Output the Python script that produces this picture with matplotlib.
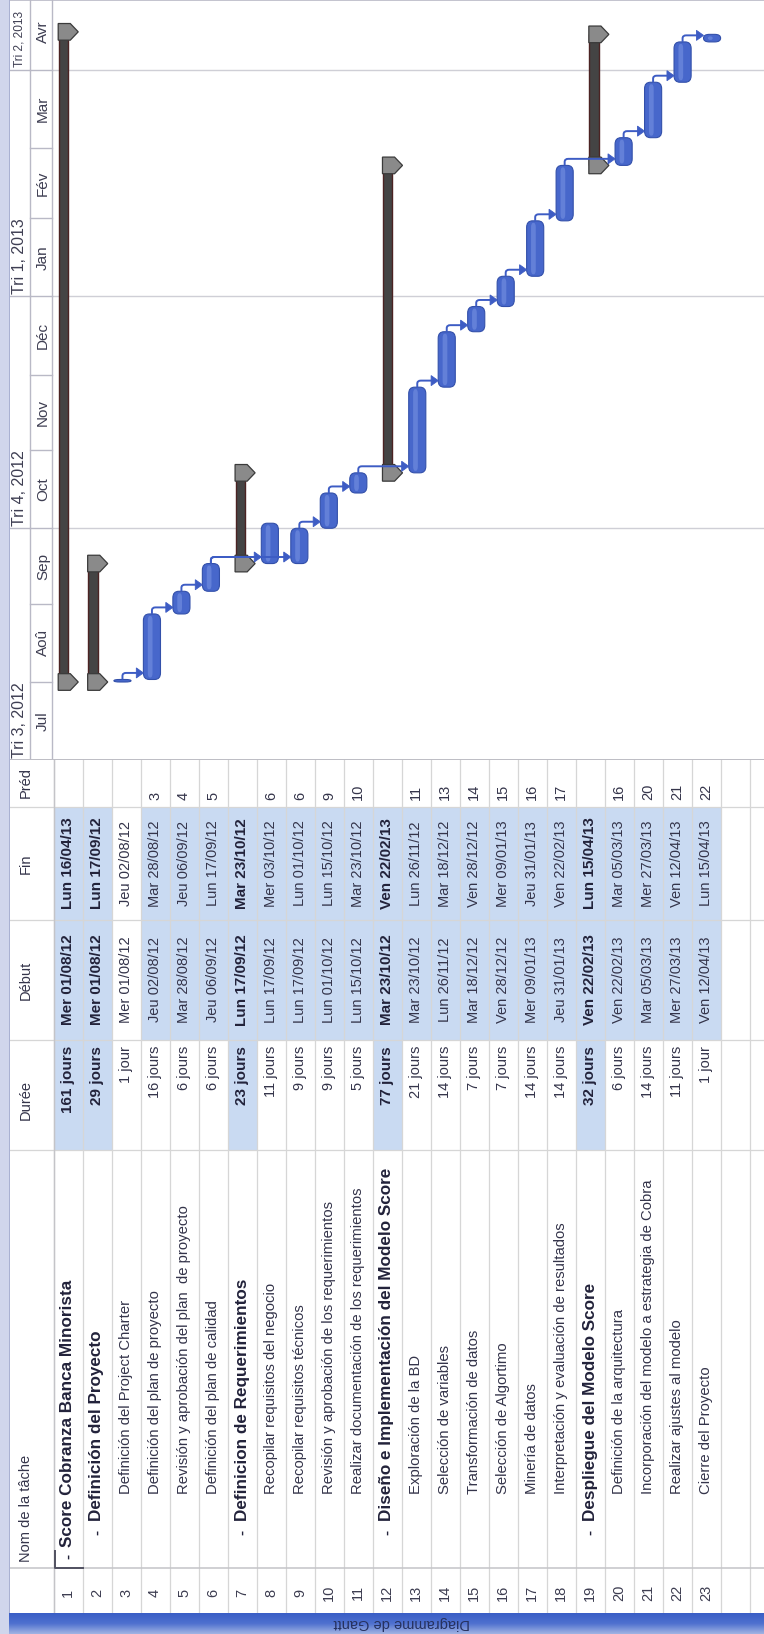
import matplotlib
matplotlib.use("Agg")
import matplotlib.pyplot as plt
import matplotlib.dates as mdates
import matplotlib.transforms as mtransforms
from matplotlib.patches import Rectangle, Polygon, FancyBboxPatch, PathPatch
from matplotlib.path import Path
from datetime import datetime, date
import numpy as np

plt.rcParams['font.family'] = ['Liberation Sans', 'DejaVu Sans']

# ---------------- project data ----------------
task_ids = list(range(1, 24))
task_names = [
    "Score Cobranza Banca Minorista",
    "Definición del Proyecto",
    "Definición del Project Charter",
    "Definición del plan de proyecto",
    "Revisión y aprobación del plan  de proyecto",
    "Definición del plan de calidad",
    "Definicion de Requerimientos",
    "Recopilar requisitos del negocio",
    "Recopilar requisitos técnicos",
    "Revisión y aprobación de los requerimientos",
    "Realizar documentación de los requerimientos",
    "Diseño e Implementación del Modelo Score",
    "Exploración de la BD",
    "Selección de variables",
    "Transformación de datos",
    "Selección de Algortimo",
    "Minería de datos",
    "Interpretación y evaluación de resultados",
    "Despliegue del Modelo Score",
    "Definición de la arquitectura",
    "Incorporación del modelo a estrategia de Cobra",
    "Realizar ajustes al modelo",
    "Cierre del Proyecto",
]
outline_level = [0, 1, 2, 2, 2, 2, 1, 2, 2, 2, 2, 1, 2, 2, 2, 2, 2, 2, 1, 2, 2, 2, 2]
durations = ["161 jours", "29 jours", "1 jour", "16 jours", "6 jours", "6 jours",
             "23 jours", "11 jours", "9 jours", "9 jours", "5 jours", "77 jours",
             "21 jours", "14 jours", "7 jours", "7 jours", "14 jours", "14 jours",
             "32 jours", "6 jours", "14 jours", "11 jours", "1 jour"]
start_labels = ["Mer 01/08/12", "Mer 01/08/12", "Mer 01/08/12", "Jeu 02/08/12",
                "Mar 28/08/12", "Jeu 06/09/12", "Lun 17/09/12", "Lun 17/09/12",
                "Lun 17/09/12", "Lun 01/10/12", "Lun 15/10/12", "Mar 23/10/12",
                "Mar 23/10/12", "Lun 26/11/12", "Mar 18/12/12", "Ven 28/12/12",
                "Mer 09/01/13", "Jeu 31/01/13", "Ven 22/02/13", "Ven 22/02/13",
                "Mar 05/03/13", "Mer 27/03/13", "Ven 12/04/13"]
finish_labels = ["Lun 16/04/13", "Lun 17/09/12", "Jeu 02/08/12", "Mar 28/08/12",
                 "Jeu 06/09/12", "Lun 17/09/12", "Mar 23/10/12", "Mer 03/10/12",
                 "Lun 01/10/12", "Lun 15/10/12", "Mar 23/10/12", "Ven 22/02/13",
                 "Lun 26/11/12", "Mar 18/12/12", "Ven 28/12/12", "Mer 09/01/13",
                 "Jeu 31/01/13", "Ven 22/02/13", "Lun 15/04/13", "Mar 05/03/13",
                 "Mer 27/03/13", "Ven 12/04/13", "Lun 15/04/13"]
predecessors = ["", "", "", "3", "4", "5", "", "6", "6", "9", "10", "", "11",
                "13", "14", "15", "16", "17", "", "16", "20", "21", "22"]
# finish-to-start links as drawn in the timeline
links = [(3, 4), (4, 5), (5, 6), (6, 8), (6, 9), (9, 10), (10, 11), (11, 13),
         (13, 14), (14, 15), (15, 16), (16, 17), (17, 18), (18, 20), (20, 21),
         (21, 22), (22, 23)]
quarter_labels = ["Tri 3, 2012", "Tri 4, 2012", "Tri 1, 2013", "Tri 2, 2013"]
month_labels = ["Jul", "Aoû", "Sep", "Oct", "Nov", "Déc", "Jan", "Fév", "Mar", "Avr"]
table_headers = ["Nom de la tâche", "Durée", "Début", "Fin", "Préd"]


def to_num(label):
    return mdates.date2num(datetime.strptime(label.split()[1], "%d/%m/%y"))


starts = [to_num(s) for s in start_labels]
finishes = [to_num(s) for s in finish_labels]
is_summary = [lvl < 2 for lvl in outline_level]

# ---------------- figure & helpers ----------------
W, H = 764, 1634
fig = plt.figure(figsize=(W / 100, H / 100), dpi=100)
fig.patch.set_facecolor("white")


def px_axes(x0, y0, x1, y1, **kw):
    ax = fig.add_axes([x0 / W, 1 - y1 / H, (x1 - x0) / W, (y1 - y0) / H], **kw)
    ax.set_axis_off()
    return ax


px_x = mtransforms.Affine2D().scale(1.0 / W, 1.0) + fig.transFigure

TXT = "#34344a"
TXT_B = "#22223a"
GRID = "#d6d6d6"
HDR_LINE = "#b9b9c6"
BLUE_CELL = "#c9daf2"
BAR = "#4767cb"
BAR_EDGE = "#3350aa"
LINK = "#3d5cc4"

# left window border
fig.add_artist(Rectangle((0, 0), 9 / W, 1, transform=fig.transFigure,
                         facecolor="#d0d6ec", edgecolor="none", zorder=0))
fig.add_artist(Rectangle((9 / W, 0), 1.2 / W, 1, transform=fig.transFigure,
                         facecolor="#a9b1d2", edgecolor="none", zorder=0))

# ---------------- timeline (upper part) ----------------
ax_g = px_axes(10, 0, 764, 759)
g_row0, g_step = 63.5, 29.48
ax_g.set_xlim(1 + (10 - g_row0) / g_step, 1 + (764 - g_row0) / g_step)
day_px = 2.52
t_ref = mdates.date2num(date(2012, 8, 1))
ax_g.set_ylim(t_ref - (759 - 682) / day_px, t_ref + 682 / day_px)
hdr_g = mtransforms.blended_transform_factory(px_x, ax_g.transData)
g_lo, g_hi = ax_g.get_ylim()

month_starts = [mdates.date2num(date(2012 + (6 + k) // 12, (6 + k) % 12 + 1, 1))
                for k in range(len(month_labels) + 1)]
quarter_starts = month_starts[0::3]

# timescale header
ax_g.plot([30, 30], [g_lo, g_hi], transform=hdr_g, color=HDR_LINE, lw=1.0)
ax_g.plot([52, 52], [g_lo, g_hi], transform=hdr_g, color=HDR_LINE, lw=1.0)
ax_g.plot([10, 764], [g_hi, g_hi], transform=hdr_g, color=HDR_LINE, lw=1.2)
for m in month_starts:
    ax_g.plot([30, 52], [m, m], transform=hdr_g, color=HDR_LINE, lw=1.0)
for q in quarter_starts:
    ax_g.plot([10, 30], [q, q], transform=hdr_g, color=HDR_LINE, lw=1.0)
for lab, m0, m1 in zip(month_labels, month_starts[:-1], month_starts[1:]):
    ax_g.text(43, (m0 + m1) / 2, lab, transform=hdr_g, rotation=90,
              rotation_mode="anchor", ha="center", va="center",
              fontsize=11, color="#3e3e52", clip_on=True)
for k, (lab, q) in enumerate(zip(quarter_labels, quarter_starts)):
    # the last quarter only has a short strip left before the top edge
    fs_q = 11.5 if k < len(quarter_labels) - 1 else 8.6
    ax_g.text(20, q + 1.0, lab, transform=hdr_g, rotation=90,
              rotation_mode="anchor", ha="left", va="center",
              fontsize=fs_q, color="#3e3e52", clip_on=True)

# quarter gridlines in the chart area
for q in quarter_starts[1:]:
    ax_g.plot([52, 764], [q, q], transform=hdr_g, color="#cfcfd6", lw=1.0, zorder=1)

# summary bars with end caps
cap_h = 3.3
for i, s, e, summ in zip(task_ids, starts, finishes, is_summary):
    if not summ:
        continue
    ax_g.add_patch(Rectangle((i - 0.16, s), 0.32, e - s, facecolor="#444444",
                             edgecolor="#4b2323", lw=1.0, zorder=3))
    for d in (s, e):
        ax_g.add_patch(Polygon([(i - 0.18, d - cap_h), (i + 0.23, d - cap_h),
                                (i + 0.5, d), (i + 0.23, d + cap_h),
                                (i - 0.18, d + cap_h)], closed=True,
                               facecolor="#8a8a8a", edgecolor="#3a3a3a",
                               lw=0.9, zorder=4))

# task bars
bar_w = 0.58
for i, s, e, summ in zip(task_ids, starts, finishes, is_summary):
    if summ:
        continue
    h = e - s
    rx = 0.2
    ry = min(2.6, h / 2)
    ax_g.add_patch(FancyBboxPatch((i - bar_w / 2, s), bar_w, h,
                                  boxstyle=f"round,pad=0,rounding_size={rx}",
                                  mutation_aspect=ry / rx, facecolor=BAR,
                                  edgecolor=BAR_EDGE, lw=0.8, zorder=5))
    if h > 2:
        hx = 0.07
        hy = min(1.8, (h - 1.6) / 2)
        ax_g.add_patch(FancyBboxPatch((i - 0.14, s + 0.8), 0.16, h - 1.6,
                                      boxstyle=f"round,pad=0,rounding_size={hx}",
                                      mutation_aspect=hy / hx, facecolor="#7f9ae6",
                                      edgecolor="none", alpha=0.5, zorder=6))

# dependency links
lift = 2.6
for a, b in links:
    xa, ya = a, finishes[a - 1]
    yl = ya + lift
    tip = b - bar_w / 2
    xe = tip - 0.24
    r = 0.12
    verts = [(xa, ya), (xa, yl - 1.2), (xa, yl), (xa + r, yl), (xe + 0.02, yl)]
    codes = [Path.MOVETO, Path.LINETO, Path.CURVE3, Path.CURVE3, Path.LINETO]
    ax_g.add_patch(PathPatch(Path(verts, codes), fill=False, edgecolor=LINK,
                             lw=1.4, zorder=7))
    ax_g.add_patch(Polygon([(xe, yl - 2.0), (tip, yl), (xe, yl + 2.0)],
                           closed=True, facecolor=LINK, edgecolor=LINK,
                           lw=0.6, zorder=7))

# ---------------- task table (lower part) ----------------
ax_t = px_axes(10, 759, 764, 1613)
t_row0, t_step = 68.0, 29.0
ax_t.set_xlim(1 + (10 - t_row0) / t_step, 1 + (764 - t_row0) / t_step)
ax_t.set_ylim(1613, 759)
hdr_t = mtransforms.blended_transform_factory(px_x, ax_t.transData)
x_lo, x_hi = ax_t.get_xlim()

col_pred = (759, 807)
col_fin = (807, 920)
col_deb = (920, 1040)
col_dur = (1040, 1150)
col_name = (1150, 1568)
col_id = (1568, 1613)

# highlighted cells
for i, summ in zip(task_ids, is_summary):
    if summ:
        ax_t.add_patch(Rectangle((i - 0.5, col_dur[0]), 1, col_dur[1] - col_dur[0],
                                 facecolor=BLUE_CELL, edgecolor="none", zorder=1))
    if i != 3:
        ax_t.add_patch(Rectangle((i - 0.5, col_fin[0]), 1, col_deb[1] - col_fin[0],
                                 facecolor=BLUE_CELL, edgecolor="none", zorder=1))

# grid
for k in range(0, 27):
    ax_t.plot([k + 0.5, k + 0.5], [759, 1613], color=GRID, lw=0.9, zorder=2)
for yb in (col_fin[0], col_deb[0], col_dur[0], col_name[0]):
    ax_t.plot([x_lo, x_hi], [yb, yb], color=GRID, lw=0.9, zorder=2)
ax_t.plot([x_lo, x_hi], [col_id[0], col_id[0]], color="#c4c4c8", lw=1.1, zorder=2)
ax_t.plot([x_lo, x_hi], [759, 759], color="#bdbdc4", lw=1.4, zorder=3)
ax_t.plot([0.5, 0.5], [759, 1613], color="#c4c4c8", lw=1.0, zorder=2)
# focus marker on the first row
ax_t.plot([0.56, 0.56, 1.5], [1551, 1568, 1568], color="#505060", lw=1.4, zorder=4)

# header labels
hdr_x = 26
ax_t.text(hdr_x, 1562, table_headers[0], transform=hdr_t, rotation=90,
          rotation_mode="anchor", ha="left", va="center", fontsize=10.5, color=TXT)
for lab, (y0, y1) in zip(table_headers[1:], [col_dur, col_deb, col_fin, col_pred]):
    ax_t.text(hdr_x, (y0 + y1) / 2 + (5 if lab == "Durée" else 0), lab,
              transform=hdr_t, rotation=90, rotation_mode="anchor",
              ha="center", va="center", fontsize=10.5, color=TXT)

name_start = {0: 1547, 1: 1521, 2: 1494}
minus_pos = {0: 1556, 1: 1532}
for i, name, lvl, dur, sl, fl, pr, summ in zip(task_ids, task_names, outline_level,
                                               durations, start_labels, finish_labels,
                                               predecessors, is_summary):
    wt = "bold" if summ else "normal"
    fs_name = 12.3 if summ else 10.7
    fs = 11 if summ else 10.5
    col = TXT_B if summ else TXT
    kw = dict(rotation=90, rotation_mode="anchor", va="center", zorder=5)
    ax_t.text(i, (col_id[0] + col_id[1]) / 2 + 2, str(i), ha="center",
              fontsize=10.5, color="#3c3c50", **kw)
    if summ:
        ax_t.text(i, minus_pos[lvl], "-", ha="center", fontsize=11,
                  fontweight="bold", color=col, **kw)
    ax_t.text(i, name_start[lvl], name, ha="left", fontsize=fs_name, fontweight=wt,
              color=col, **kw)
    ax_t.text(i, col_dur[0] + 6, dur, ha="right", fontsize=fs, fontweight=wt,
              color=col, **kw)
    ax_t.text(i, (col_deb[0] + col_deb[1]) / 2, sl, ha="center", fontsize=fs,
              fontweight=wt, color=col, **kw)
    ax_t.text(i, (col_fin[0] + col_fin[1]) / 2, fl, ha="center", fontsize=fs,
              fontweight=wt, color=col, **kw)
    if pr:
        ax_t.text(i, 800, pr, ha="left", fontsize=10.5, color=TXT, **kw)

# ---------------- view bar ----------------
ax_s = px_axes(9, 1613, 764, 1634)
grad = np.linspace(0, 1, 32)[:, None]
ax_s.imshow(grad, aspect="auto", extent=(0, 1, 1, 0),
            cmap=matplotlib.colors.LinearSegmentedColormap.from_list(
                "vb", ["#3a5ec6", "#4f71cf", "#9fb2e2"]))
ax_s.set_xlim(0, 1)
ax_s.set_ylim(1, 0)
ax_s.text((402 - 9) / (764 - 9), 0.5, "Diagramme de Gantt", rotation=180,
          ha="center", va="center", fontsize=10.5, color="#26315e")

fig.savefig("out.png", dpi=100, facecolor="white")
